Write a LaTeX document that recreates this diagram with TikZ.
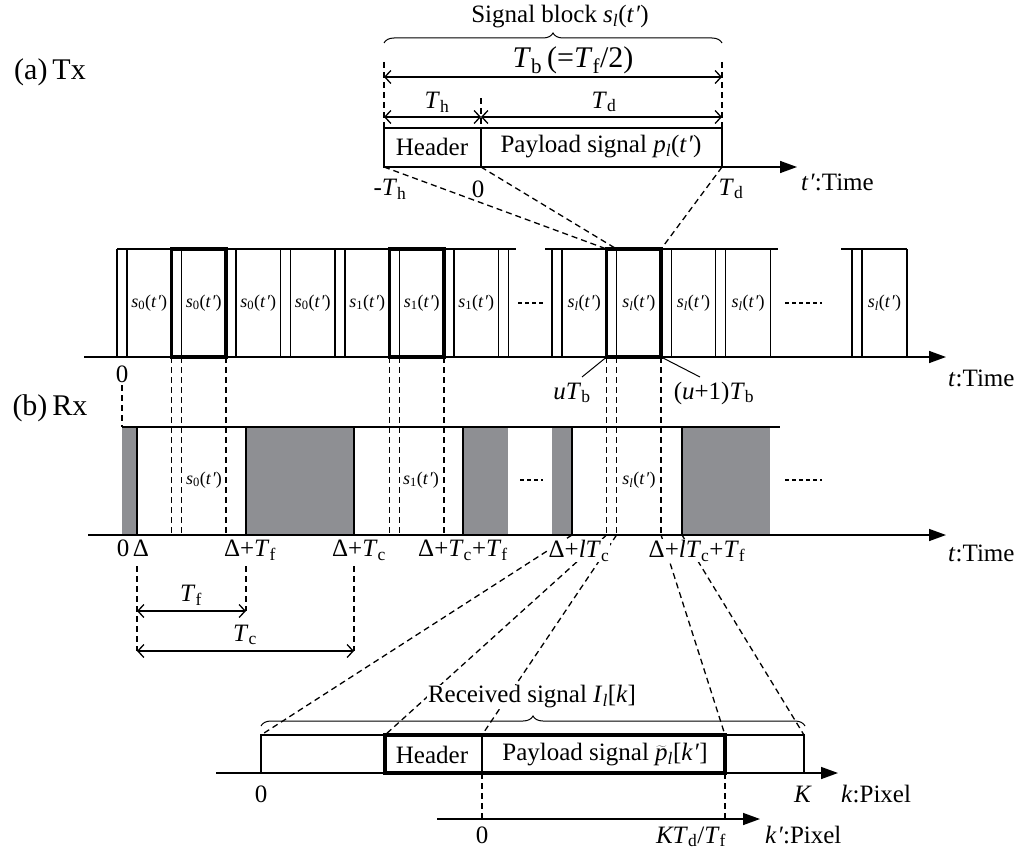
\documentclass[tikz,border=0pt]{standalone}
\usepackage{fontspec}
\setmainfont{Liberation Serif}
\usetikzlibrary{arrows.meta,decorations.pathreplacing}
\definecolor{shadegray}{RGB}{142,143,147}
\newcommand{\Tsub}[1]{\textit{T}\textsubscript{#1}}
\newcommand{\tpr}{\textit{t\kern1pt′}}
\newcommand{\sig}[1]{\textit{s}\textsubscript{#1}(\tpr)}
\newcommand{\ptil}{$\widetilde{\textit{p}}$}

\begin{document}
\begin{tikzpicture}[x=1pt,y=-1pt,
    ln/.style={line width=1.3pt},
    blkbold/.style={line width=3.4pt},
    dsh/.style={line width=1.3pt,dash pattern=on 6pt off 4pt},
    dots/.style={line width=1.3pt,dash pattern=on 4pt off 3pt},
    timeaxis/.style={line width=1.5pt,-{Triangle[length=17pt,width=12pt]}},
    dimarrow/.style={line width=1.3pt,{Straight Barb[length=6pt,width=13pt]}-{Straight Barb[length=6pt,width=13pt]}},
    br/.style={line width=1pt,decorate,decoration={brace,amplitude=10pt}},
    hdfont/.style={font=\fontsize{30}{32}\selectfont},
    mid/.style={font=\fontsize{25}{27}\selectfont,inner sep=1pt},
    blkfont/.style={font=\fontsize{18}{19}\selectfont},
    mask/.style={fill=white}]

\useasboundingbox (0,0) rectangle (1025,851);

% --- (a) Tx: one signal block ---
\coordinate (hdL) at (384,167);
\coordinate (hdM) at (481,167);
\coordinate (hdR) at (722,167);
\draw[ln] (384,128) rectangle (hdR);
\draw[ln] (481,128) -- (hdM);
\node[mid] (hdr) at (432,147) {Header};
\node[mid] (pay) at (601,147) {Payload signal \textit{p}\textsubscript{\textit{l}}(\tpr)};
\draw[timeaxis] (hdL) -- (797,167);
\node[mid,anchor=west] (tplbl) at (800,182) {\tpr:Time};

\draw[dsh] (384,62) -- (384,128);
\draw[dsh] (722,62) -- (722,128);
\draw[dsh] (481,98) -- (481,128);
\draw[dimarrow] (384,77) -- (722,77);
\node[hdfont] (lTb) at (573,60) {\Tsub{b}\,(=\Tsub{f}/2)};
\draw[dimarrow] (384,117) -- (481,117);
\draw[dimarrow] (481,117) -- (722,117);
\node[mid] (lTh) at (437,102) {\Tsub{h}};
\node[mid] (lTd) at (604,102) {\Tsub{d}};
\draw[br] (384,43) -- (722,43);
\node[mid] (blk) at (560,17) {Signal block \sig{\textit{l}}};

% --- (a) Tx: block train ---
\draw[ln] (117,249) -- (516,249);
\foreach \i in {0,...,7}{
  \draw[ln] ({117+54.5*\i},249) -- ({117+54.5*\i},357);
  \draw[ln] ({127+54.5*\i},249) -- ({127+54.5*\i},357);
}
\foreach \i/\n in {0/0,1/0,2/0,3/0,4/1,5/1,6/1}
  \node[blkfont] at ({149.25+54.5*\i},303) {\sig{\n}};

\draw[ln] (545,249) -- (778,249);
\foreach \j in {0,...,3}{
  \draw[ln] ({552+54.6*\j},249) -- ({552+54.6*\j},357);
  \draw[ln] ({562+54.6*\j},249) -- ({562+54.6*\j},357);
  \node[blkfont] at ({584.3+54.6*\j},303) {\sig{\textit{l}}};
}
\draw[ln] (770.4,249) -- (770.4,357);

\draw[ln] (841,249) -- (907,249);
\foreach \x in {852,862,907}
  \draw[ln] (\x,249) -- (\x,357);
\node[blkfont] at (884.5,303) {\sig{\textit{l}}};

\foreach \x in {171.5,389.5,606.6}
  \draw[blkbold] (\x,249) rectangle ++(54.5,108);

\draw[dots] (518,303) -- (543,303);
\draw[dots] (785,303) -- (822,303);

\draw[timeaxis] (84,357) -- (946,357);
\node[mid,anchor=west] (ttx) at (947,378) {\textit{t}:Time};
\node[mid] (t0) at (122,374) {0};
\node[mid] (luTb) at (572,393) {\textit{uT}\textsubscript{b}};
\node[mid] (lu1Tb) at (714,393) {(\textit{u}+1)\textit{T}\textsubscript{b}};
\draw[line width=1pt] (606.6,357) -- (582,377);
\draw[line width=1pt] (661.1,357) -- (700,377);

% zoom lines into the bold block
\draw[dsh] (hdL) -- (606.6,249);
\draw[dsh] (hdM) -- (616.6,249);
\draw[dsh] (hdR) -- (661.1,249);
\node[mid,mask] (mTh) at (390,189) {-\Tsub{h}};
\node[mid] (z0) at (478,189) {0};
\node[mid] (eTd) at (731,189) {\Tsub{d}};

\node[hdfont] (tx) at (50,72) {(a)\,Tx};
\node[hdfont] (rx) at (50,408) {(b)\,Rx};

% --- Tx -> Rx ---
\draw[dsh] (122,385) -- (122,427);
\foreach \x in {171.5,181.5,226,389.5,399.5,444,606.6,616.6,661.1}
  \draw[dsh] (\x,357) -- (\x,535);

% --- (b) Rx ---
\fill[shadegray] (122,427) rectangle (137,535);
\fill[shadegray] (246,427) rectangle (354,535);
\fill[shadegray] (463,427) rectangle (508,535);
\fill[shadegray] (552,427) rectangle (572,535);
\fill[shadegray] (682,427) rectangle (770,535);
\draw[ln] (122,427) -- (780,427);
\foreach \x in {137,246,354,463,572,682}
  \draw[ln] (\x,427) -- (\x,535);
\node[blkfont] at (204,480) {\sig{0}};
\node[blkfont] at (421,480) {\sig{1}};
\node[blkfont] at (639,480) {\sig{\textit{l}}};
\draw[dots] (520,480) -- (543,480);
\draw[dots] (785,480) -- (822,480);

\draw[timeaxis] (88,535) -- (946,535);
\node[mid,anchor=west] (trx) at (947,553) {\textit{t}:Time};

% --- Rx -> received frame ---
\coordinate (kL) at (261,735);
\coordinate (kH) at (385,735);
\coordinate (kM) at (482,735);
\coordinate (kP) at (725,735);
\coordinate (kR) at (804,735);
\draw[dsh] (572,535) -- (kL);
\draw[dsh] (606.6,535) -- (kH);
\draw[dsh] (616.6,535) -- (kM);
\draw[dsh] (661.1,535) -- (kP);
\draw[dsh] (682,535) -- (kR);

\node[mid,mask,anchor=north] (r0) at (123,539) {0};
\node[mid,mask,anchor=north] (rD) at (141,539) {Δ};
\node[mid,mask,anchor=north] (rDf) at (250,539) {Δ+\Tsub{f}};
\node[mid,mask,anchor=north] (rDc) at (359,539) {Δ+\Tsub{c}};
\node[mid,mask,anchor=north] (rDcf) at (463,539) {Δ+\Tsub{c}+\Tsub{f}};
\node[mid,mask,anchor=north] (rDl) at (579,539) {Δ+\textit{lT}\textsubscript{c}};
\node[mid,mask,anchor=north] (rDlf) at (697,539) {Δ+\textit{lT}\textsubscript{c}+\Tsub{f}};

\draw[dsh] (137,566) -- (137,651);
\draw[dsh] (246,566) -- (246,611);
\draw[dsh] (354,566) -- (354,651);
\draw[dimarrow] (137,611) -- (246,611);
\node[mid] (lTf) at (191,595) {\Tsub{f}};
\draw[dimarrow] (137,651) -- (354,651);
\node[mid] (lTc) at (245,635) {\Tsub{c}};

% --- received frame ---
\draw[ln] (kL) rectangle (804,773);
\draw[blkbold] (kH) rectangle (725,773);
\draw[ln] (kM) -- (482,773);
\node[mid] (khdr) at (432,755) {Header};
\node[mid] (kpay) at (605,755) {Payload signal \ptil\textsubscript{\textit{l}}[\textit{k\kern1pt′}]};
\draw[timeaxis] (216,773) -- (838,773);
\node[mid,anchor=west] (klbl) at (840,794) {\textit{k}:Pixel};
\node[mid] (k0) at (261,794) {0};
\node[mid] (kK) at (803,794) {\textit{K}};
\draw[br] (261,726) -- (805,726);
\node[mid,mask] (rcv) at (532,697) {Received signal \textit{I}\textsubscript{\textit{l}}[\textit{k}]};

\draw[dsh] (482,773) -- (482,819);
\draw[dsh] (725,773) -- (725,819);
\draw[timeaxis] (437,819) -- (760,819);
\node[mid,anchor=base west] (kplbl) at (764,843) {\textit{k\kern1pt′}:Pixel};
\node[mid,anchor=base] (kp0) at (482,843) {0};
\node[mid,anchor=base] (kpK) at (691,843) {\textit{KT}\textsubscript{d}/\Tsub{f}};

\end{tikzpicture}
\end{document}
